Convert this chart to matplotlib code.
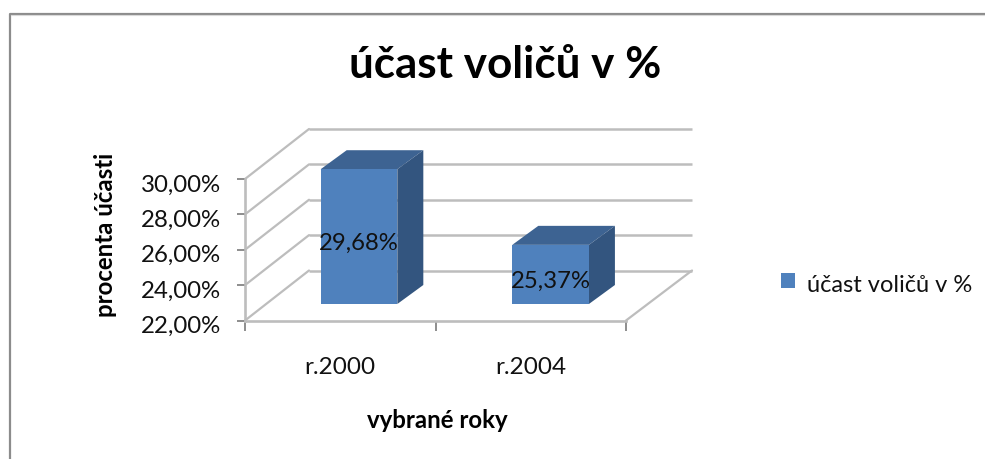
# coding : utf8

import matplotlib
matplotlib.use("Agg")
import matplotlib.pyplot as plt
from matplotlib.patches import ConnectionPatch, Polygon
from matplotlib.lines import Line2D
from matplotlib.transforms import Affine2D

W, H = 985, 459

categories = ["r.2000", "r.2004"]
values = [29.68, 25.37]
value_labels = ["29,68%", "25,37%"]
y_ticks = [22, 24, 26, 28, 30]
y_tick_labels = ["22,00%", "24,00%", "26,00%", "28,00%", "30,00%"]
series_name = "účast voličů v %"

GRID = "#bdbdbd"
FRONT = "#4f81bd"
TOP = "#3d6392"
SIDE = "#33557f"

plt.rcParams["font.family"] = ["Lato", "DejaVu Sans"]


def px_axes(fig, left, right, top, bottom, **kw):
    return fig.add_axes([left / W, 1 - bottom / H, (right - left) / W, (bottom - top) / H], **kw)


fig = plt.figure(figsize=(W / 100, H / 100), dpi=100)

# outer frame, only top and left are visible in the picture
fig.add_artist(Line2D([9.5 / W, 9.5 / W, 1], [0, 1 - 13.5 / H, 1 - 13.5 / H], color="#8c8c8c", lw=1.6))
fig.add_artist(Line2D([11 / W, 1], [1 - 15 / H, 1 - 15 / H], color="#d9d9d9", lw=0.8))

# back wall with the gridlines
back = px_axes(fig, 309, 692, 129, 270.5, zorder=1)
back.set_xlim(0, 2)
back.set_ylim(22, 30)
back.axis("off")
for t in y_ticks:
    back.plot([0, 2], [t, t], color=GRID, lw=1.8, solid_capstyle="butt", clip_on=False)

# front plane: axis lines, ticks and labels
ax = px_axes(fig, 245, 626, 179, 320.5, zorder=2)
ax.patch.set_alpha(0)
ax.set_xlim(0, 2)
ax.set_ylim(22, 30)
ax.set_xticks([0, 1, 2])
ax.set_xticklabels([])
ax.set_yticks(y_ticks)
ax.set_yticklabels(y_tick_labels, fontsize=17.3, color="#111111")
ax.tick_params(axis="y", length=5.8, width=1.2, color="#7a7a7a", pad=11.3)
ax.tick_params(axis="x", length=7, width=1.2, color="#7a7a7a")
# tick labels sit a little under their ticks in the reference
for lab in ax.get_yticklabels():
    lab.set_transform(lab.get_transform() + Affine2D().translate(0, -4))
for s in ["top", "right"]:
    ax.spines[s].set_visible(False)
for s in ["left", "bottom"]:
    ax.spines[s].set_color(GRID)
    ax.spines[s].set_linewidth(1.9)
for i, c in enumerate(categories):
    ax.annotate(c, (i + 0.5, 22), xytext=(0, -47 * 0.72), textcoords="offset points",
                ha="center", va="center", fontsize=17.5, color="#111111")

# lines from the front plane back to the wall
for t in y_ticks:
    fig.add_artist(ConnectionPatch((0, t), (0, t), coordsA=ax.transData, coordsB=back.transData,
                                   color=GRID, lw=1.6))
fig.add_artist(ConnectionPatch((2, 22), (2, 22), coordsA=ax.transData, coordsB=back.transData,
                               color=GRID, lw=1.6))

# bars stand on their own plane, a bit behind the front one
bars = px_axes(fig, 263.2, 646.4, 163.6, 304, zorder=3)
bars.patch.set_alpha(0)
bars.set_xlim(-0.5, 1.5)
bars.set_ylim(22, 30)
bars.axis("off")
rects = bars.bar(range(len(values)), values, width=0.4, color=FRONT, zorder=3, label=series_name)
for i, v in enumerate(values):
    x0, x1 = i - 0.2, i + 0.2
    (a, b), (c, d) = bars.transData.transform([(x0, 22), (x1, v)])
    # depth is given in pixels, so go back into data units for the polygons
    inv = bars.transData.inverted()
    tl, tr, tl2, tr2, br, br2 = inv.transform([(a, d), (c, d), (a + 26, d + 19), (c + 26, d + 19),
                                               (c, b), (c + 26, b + 19)])
    bars.add_patch(Polygon([tl, tr, tr2, tl2], closed=True, color=TOP, lw=0, zorder=2, clip_on=False))
    bars.add_patch(Polygon([tr, br, br2, tr2], closed=True, color=SIDE, lw=0, zorder=2, clip_on=False))
    bars.annotate(value_labels[i], (i, (22 + v) / 2), xytext=(0, -6.5 * 0.72), textcoords="offset points",
                  ha="center", va="center", fontsize=17.2, color="#111111", zorder=5)

fig.text(505 / W, 1 - 65 / H, series_name, ha="center", va="center",
         fontsize=31.7, fontweight="bold", color="#000000")
fig.text(105.5 / W, 1 - 234.5 / H, "procenta účasti", rotation=90, ha="center", va="center",
         fontsize=17.3, fontweight="bold", color="#000000")
fig.text(437 / W, 1 - 421 / H, "vybrané roky", ha="center", va="center",
         fontsize=17.3, fontweight="bold", color="#000000")

leg = fig.legend(handles=[rects[0]], labels=[series_name], loc="center left", bbox_to_anchor=(760 / W, 1 - 282 / H),
                 frameon=False, fontsize=17, handlelength=0.6, handleheight=0.6, handletextpad=0.5,
                 labelcolor="#111111")
leg.get_texts()[0].set_position((0, -4))

fig.savefig("out.png", dpi=100)
